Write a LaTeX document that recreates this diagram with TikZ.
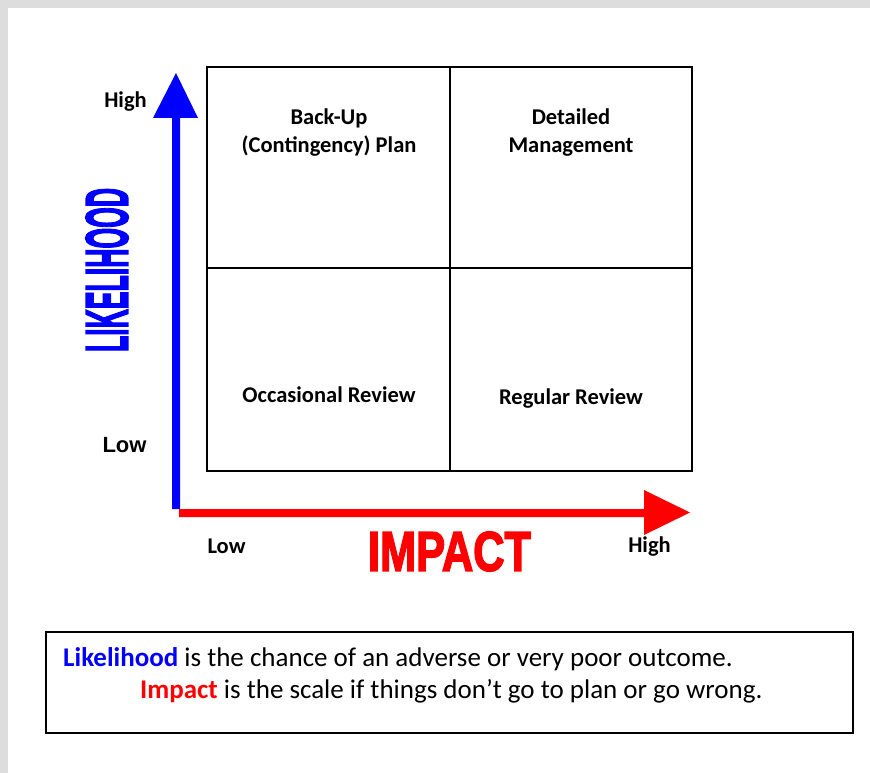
\documentclass[tikz,border=0pt]{standalone}
\usepackage{fontspec}
\setmainfont{Carlito}
\newfontfamily\arialfont{Liberation Sans}
\newfontfamily\heavyfont[BoldFeatures={FakeBold=3}]{Liberation Sans}
\definecolor{pureblue}{RGB}{0,0,255}
\definecolor{purered}{RGB}{255,0,0}
\definecolor{framegray}{RGB}{221,221,221}
\begin{document}
\begin{tikzpicture}[x=1pt,y=-1pt,
  lbl/.style={inner sep=0pt,anchor=base,font=\fontsize{22.5}{26}\selectfont\bfseries},
  note/.style={inner sep=0pt,anchor=base west,font=\fontsize{27}{30}\selectfont},
  gridline/.style={line width=1.5pt,black}]
\useasboundingbox (0,0) rectangle (870,773);
\fill[white] (0,0) rectangle (870,773);
\fill[framegray] (0,0) rectangle (870,8);
\fill[framegray] (0,0) rectangle (8,773);
% grid
\coordinate (g1) at (207,67);
\coordinate (g2) at (692,471);
\draw[gridline] (g1) rectangle (g2);
\coordinate (vt) at (450,67);
\coordinate (vb) at (450,471);
\coordinate (hl) at (207,268);
\coordinate (hr) at (692,268);
\draw[gridline] (vt) -- (vb);
\draw[gridline] (hl) -- (hr);
% axes
\fill[pureblue] (172,509) -- (172,118) -- (153,118) -- (176,73) -- (198,118) -- (180,118) -- (180,509) -- cycle;
\fill[purered] (179,509) -- (644,509) -- (644,490) -- (690,512.5) -- (644,535) -- (644,517) -- (179,517) -- cycle;
% axis labels
\node[lbl] (yhigh) at (125.5,108) {High};
\node[inner sep=0pt,anchor=base,font=\arialfont\fontsize{22}{24}\selectfont\bfseries] (ylow) at (124.5,452) {Low};
\node[lbl] (xlow) at (226.5,553) {Low};
\node[lbl] (xhigh) at (649.5,552) {High};
\node[inner sep=0pt,rotate=90,text=pureblue] (like) at (107,270) {\resizebox{164pt}{42pt}{\heavyfont\bfseries LIKELIHOOD}};
\node[inner sep=0pt,text=purered] (imp) at (449.5,551.5) {\resizebox{163pt}{39pt}{\heavyfont\bfseries IMPACT}};
% quadrant labels
\node[lbl] (q1a) at (329,125) {Back-Up};
\node[lbl] (q1b) at (329,153) {(Contingency) Plan};
\node[lbl] (q2a) at (571,125) {Detailed};
\node[lbl] (q2b) at (571,153) {Management};
\node[lbl] (q3) at (329,402) {Occasional Review};
\node[lbl] (q4) at (571,404) {Regular Review};
% note box
\draw[line width=1.5pt,black] (46,632) rectangle (853,733);
\node[note] (n1) at (63,666) {\textcolor{pureblue}{\bfseries Likelihood} is the chance of an adverse or very poor outcome.};
\node[note] (n2) at (140,698.5) {\textcolor{purered}{\bfseries Impact} is the scale if things don’t go to plan or go wrong.};
\end{tikzpicture}
\end{document}
